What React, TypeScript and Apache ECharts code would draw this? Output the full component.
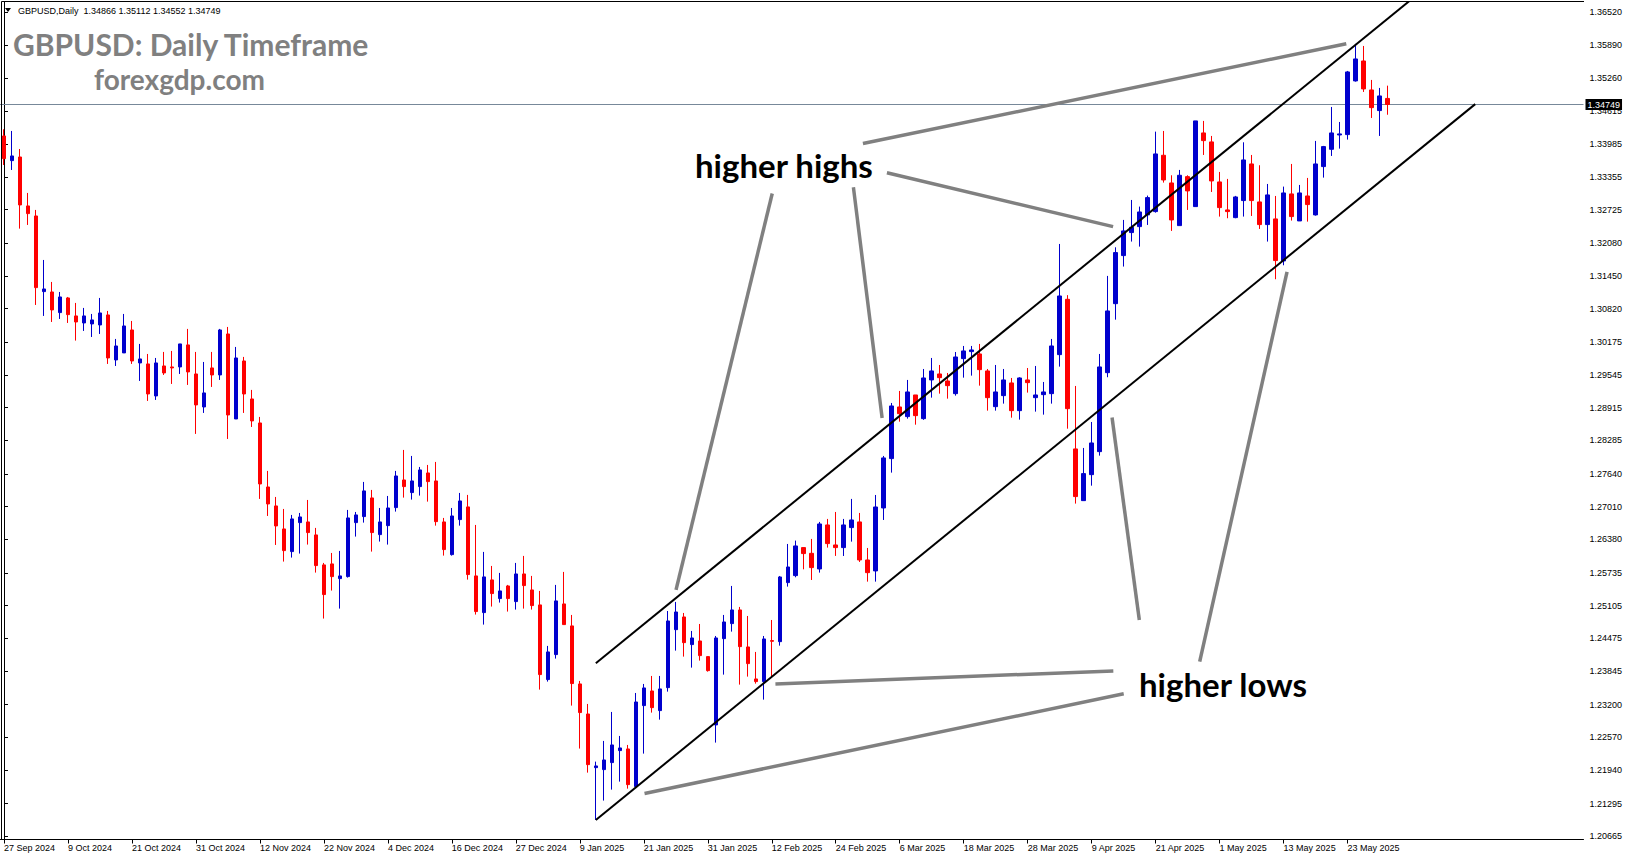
import React, { useEffect, useRef } from 'react';
import * as echarts from 'echarts';

// ---- Data (GBPUSD daily) ----
const OPEN = [
  1.34144, 1.33669, 1.33739, 1.32797, 1.32604, 1.31148, 1.31141, 1.30744, 1.31026, 1.30680,
  1.30545, 1.30526, 1.30506, 1.30699, 1.29833, 1.29968, 1.30410, 1.29775, 1.29756, 1.29140,
  1.29717, 1.29698, 1.29698, 1.30122, 1.29563, 1.28928, 1.29679, 1.29544, 1.30333, 1.28697,
  1.29813, 1.29082, 1.28620, 1.27388, 1.27023, 1.26580, 1.26144, 1.26702, 1.26715, 1.26465,
  1.25888, 1.25907, 1.25624, 1.25663, 1.26702, 1.26818, 1.27177, 1.26471, 1.26644, 1.26991,
  1.27523, 1.27280, 1.27395, 1.27658, 1.27504, 1.26715, 1.26086, 1.26760, 1.27004, 1.25676,
  1.24970, 1.25599, 1.25240, 1.25483, 1.25182, 1.25714, 1.25406, 1.25118, 1.23681, 1.24162,
  1.25137, 1.24714, 1.23597, 1.23019, 1.21986, 1.21948, 1.22083, 1.22314, 1.22346, 1.21621,
  1.23180, 1.23462, 1.23084, 1.23526, 1.24642, 1.24886, 1.24354, 1.24424, 1.24123, 1.22808,
  1.24469, 1.24758, 1.25021, 1.24309, 1.23693, 1.23642, 1.24431, 1.24411, 1.25547, 1.25682,
  1.26221, 1.26111, 1.25810, 1.26657, 1.26272, 1.26221, 1.26606, 1.26715, 1.25983, 1.25772,
  1.26984, 1.27934, 1.28928, 1.28742, 1.29159, 1.28703, 1.29448, 1.29563, 1.29428, 1.29184,
  1.29858, 1.29993, 1.29948, 1.29621, 1.28934, 1.29146, 1.29390, 1.28857, 1.29448, 1.29107,
  1.29165, 1.29184, 1.29935, 1.31000, 1.28120, 1.27125, 1.27625, 1.28068, 1.29588, 1.30916,
  1.31841, 1.32284, 1.32399, 1.32624, 1.32688, 1.33772, 1.33239, 1.32418, 1.33361, 1.32784,
  1.34202, 1.34029, 1.33259, 1.32720, 1.32572, 1.32900, 1.33605, 1.32874, 1.32438, 1.32547,
  1.31738, 1.33028, 1.32508, 1.32989, 1.32624, 1.33554, 1.33887, 1.34163, 1.34170, 1.35203,
  1.35587, 1.35029, 1.34632, 1.34866,
];
const HIGH = [
  1.34272, 1.34240, 1.33893, 1.33047, 1.32720, 1.31757, 1.31334, 1.31141, 1.31045, 1.30930,
  1.30834, 1.30718, 1.31026, 1.30776, 1.30237, 1.30718, 1.30583, 1.30141, 1.29948, 1.29871,
  1.29987, 1.30006, 1.30141, 1.30430, 1.29987, 1.29794, 1.29987, 1.30430, 1.30468, 1.30083,
  1.29891, 1.29256, 1.28736, 1.27697, 1.27196, 1.26965, 1.26850, 1.26888, 1.27138, 1.26600,
  1.25926, 1.26118, 1.26157, 1.26946, 1.26907, 1.27485, 1.27331, 1.26984, 1.27215, 1.27697,
  1.28101, 1.27985, 1.27773, 1.27812, 1.27870, 1.26792, 1.26984, 1.27273, 1.27235, 1.26657,
  1.26138, 1.25868, 1.25734, 1.25503, 1.25926, 1.26061, 1.25676, 1.25387, 1.24329, 1.25503,
  1.25753, 1.24925, 1.23655, 1.23212, 1.22102, 1.22500, 1.23058, 1.22596, 1.22423, 1.23423,
  1.23597, 1.23751, 1.23751, 1.25001, 1.25175, 1.24963, 1.24617, 1.24751, 1.24123, 1.24520,
  1.24925, 1.25483, 1.25079, 1.24905, 1.24213, 1.24520, 1.24828, 1.25675, 1.26291, 1.26356,
  1.26227, 1.26388, 1.26715, 1.26773, 1.26907, 1.26773, 1.27158, 1.26888, 1.26214, 1.27234,
  1.27985, 1.29005, 1.29236, 1.29448, 1.29159, 1.29659, 1.29871, 1.29736, 1.29582, 1.29986,
  1.30102, 1.30102, 1.30141, 1.29659, 1.29736, 1.29659, 1.29486, 1.29500, 1.29678, 1.29717,
  1.29409, 1.30237, 1.32065, 1.31080, 1.29332, 1.28139, 1.28639, 1.29948, 1.31450, 1.32001,
  1.32528, 1.32912, 1.32784, 1.32996, 1.34227, 1.34240, 1.33387, 1.33490, 1.33387, 1.34433,
  1.34433, 1.34144, 1.33451, 1.33317, 1.32990, 1.34022, 1.33778, 1.33580, 1.33220, 1.32989,
  1.33169, 1.33605, 1.33201, 1.33336, 1.34048, 1.33952, 1.34702, 1.34413, 1.35395, 1.35915,
  1.35876, 1.35222, 1.35068, 1.35112,
];
const LOW = [
  1.33585, 1.33489, 1.32360, 1.32431, 1.30891, 1.30680, 1.30564, 1.30622, 1.30545, 1.30205,
  1.30391, 1.30275, 1.30333, 1.29756, 1.29717, 1.29968, 1.29756, 1.29429, 1.29044, 1.29063,
  1.29544, 1.29371, 1.29563, 1.29352, 1.28409, 1.28813, 1.29313, 1.29448, 1.28312, 1.28697,
  1.28813, 1.28543, 1.27158, 1.26830, 1.26272, 1.25952, 1.26029, 1.26106, 1.26279, 1.25740,
  1.24855, 1.25394, 1.25047, 1.25644, 1.26433, 1.26702, 1.26144, 1.26337, 1.26279, 1.26914,
  1.27183, 1.27145, 1.27222, 1.27106, 1.26644, 1.26067, 1.26067, 1.26644, 1.25605, 1.24932,
  1.24739, 1.25086, 1.25163, 1.24990, 1.25028, 1.25047, 1.25028, 1.23488, 1.23642, 1.24085,
  1.24739, 1.23180, 1.22353, 1.21890, 1.20980, 1.21352, 1.21563, 1.21717, 1.21582, 1.21621,
  1.22256, 1.23045, 1.22910, 1.23449, 1.24238, 1.24123, 1.23911, 1.24046, 1.23834, 1.22468,
  1.23776, 1.24604, 1.23584, 1.23738, 1.23603, 1.23295, 1.23738, 1.24334, 1.25470, 1.25650,
  1.25803, 1.25598, 1.25740, 1.26221, 1.26061, 1.26060, 1.26336, 1.25945, 1.25566, 1.25566,
  1.26753, 1.27664, 1.28645, 1.28703, 1.28587, 1.28680, 1.29107, 1.29184, 1.29088, 1.29146,
  1.29492, 1.29531, 1.29338, 1.28857, 1.28857, 1.28992, 1.28722, 1.28684, 1.29204, 1.28838,
  1.28780, 1.28992, 1.29704, 1.28510, 1.27068, 1.27125, 1.27413, 1.27991, 1.29500, 1.30608,
  1.31630, 1.32111, 1.32014, 1.32431, 1.32668, 1.33246, 1.32316, 1.32418, 1.32720, 1.32784,
  1.33778, 1.33066, 1.32592, 1.32560, 1.32560, 1.32592, 1.32604, 1.32354, 1.32111, 1.31386,
  1.31655, 1.32515, 1.32508, 1.32495, 1.32611, 1.33342, 1.33759, 1.33900, 1.34074, 1.35190,
  1.34991, 1.34490, 1.34144, 1.34552,
];
const CLOSE = [
  1.33707, 1.33759, 1.32816, 1.32649, 1.31225, 1.31199, 1.30795, 1.31045, 1.30705, 1.30564,
  1.30680, 1.30603, 1.30737, 1.29871, 1.30102, 1.30487, 1.29813, 1.29852, 1.29178, 1.29775,
  1.29583, 1.29679, 1.30141, 1.29602, 1.28967, 1.29198, 1.29544, 1.30410, 1.28774, 1.29871,
  1.29178, 1.28659, 1.27446, 1.27061, 1.26638, 1.26163, 1.26773, 1.26811, 1.26510, 1.25875,
  1.25317, 1.25663, 1.25676, 1.26792, 1.26850, 1.27312, 1.26510, 1.26715, 1.26984, 1.27600,
  1.27395, 1.27504, 1.27716, 1.27491, 1.26721, 1.26183, 1.26830, 1.27119, 1.25702, 1.24990,
  1.25657, 1.25336, 1.25387, 1.25240, 1.25714, 1.25490, 1.25105, 1.23777, 1.24213, 1.25195,
  1.24739, 1.23604, 1.23046, 1.22044, 1.22019, 1.22134, 1.22423, 1.22365, 1.21659, 1.23250,
  1.23520, 1.23141, 1.23501, 1.24809, 1.24982, 1.24392, 1.24482, 1.24142, 1.23853, 1.24482,
  1.24790, 1.25021, 1.24315, 1.23988, 1.23642, 1.24463, 1.24418, 1.25656, 1.25848, 1.26253,
  1.26106, 1.25836, 1.26676, 1.26298, 1.26221, 1.26657, 1.26753, 1.25983, 1.25739, 1.27003,
  1.27947, 1.28947, 1.28799, 1.29217, 1.28761, 1.29486, 1.29621, 1.29492, 1.29338, 1.29890,
  1.30006, 1.30025, 1.29646, 1.29107, 1.29217, 1.29448, 1.28857, 1.29486, 1.29396, 1.29159,
  1.29217, 1.30102, 1.31064, 1.28895, 1.27203, 1.27645, 1.28235, 1.29698, 1.30776, 1.31899,
  1.32316, 1.32386, 1.32681, 1.32957, 1.33798, 1.33297, 1.32527, 1.33387, 1.33086, 1.34433,
  1.34054, 1.33278, 1.32765, 1.32688, 1.32970, 1.33682, 1.32900, 1.32438, 1.33009, 1.31745,
  1.33047, 1.32592, 1.33047, 1.32823, 1.33605, 1.33939, 1.34202, 1.34183, 1.35376, 1.35626,
  1.35049, 1.34689, 1.34914, 1.34749,
];

const Y_TICKS = [
  1.20665, 1.21295, 1.2194, 1.2257, 1.232, 1.23845, 1.24475, 1.25105, 1.25735, 1.2638,
  1.2701, 1.2764, 1.28285, 1.28915, 1.29545, 1.30175, 1.3082, 1.3145, 1.3208, 1.32725,
  1.33355, 1.33985, 1.34615, 1.3526, 1.3589, 1.3652,
];
const Y_MIN = 1.20603;
const Y_MAX = 1.36722;
const LAST_PRICE = 1.34749;
const HEADER_TEXT = 'GBPUSD,Daily  1.34866 1.35112 1.34552 1.34749';

const START = [2024, 8, 27];
const HOLIDAYS = ['2024-12-25', '2025-01-01'];
const EXTRA_SLOTS = 24;
const LABEL_EVERY = 8;
const MONTHS = ['Jan', 'Feb', 'Mar', 'Apr', 'May', 'Jun', 'Jul', 'Aug', 'Sep', 'Oct', 'Nov', 'Dec'];

// Drawn trend objects, in [bar index, price]
const CHANNEL_LINES = [
  [[74.0, 1.23995], [176.0, 1.36775]],
  [[74.0, 1.20979], [183.96, 1.34756]],
];
const POINTER_LINES = [
  [[107.4, 1.33997], [167.84, 1.3592]],
  [[110.4, 1.33437], [138.68, 1.32398]],
  [[96.06, 1.33037], [84.03, 1.25406]],
  [[106.21, 1.33158], [109.8, 1.28716]],
  [[138.71, 1.23847], [96.46, 1.23597]],
  [[140.01, 1.23408], [80.09, 1.21489]],
  [[141.96, 1.24829], [138.55, 1.28726]],
  [[149.51, 1.24028], [160.43, 1.31526]],
];

function buildDates(n: number): string[] {
  const out: string[] = [];
  const d = new Date(Date.UTC(START[0], START[1], START[2]));
  while (out.length < n) {
    const dow = d.getUTCDay();
    const iso = d.toISOString().slice(0, 10);
    if (dow !== 0 && dow !== 6 && HOLIDAYS.indexOf(iso) < 0) {
      out.push(`${d.getUTCDate()} ${MONTHS[d.getUTCMonth()]} ${d.getUTCFullYear()}`);
    }
    d.setUTCDate(d.getUTCDate() + 1);
  }
  return out;
}

export default function App() {
  const ref = useRef<HTMLDivElement>(null);

  useEffect(() => {
    document.body.style.margin = '0';
    document.body.style.overflow = 'hidden';
    if (!ref.current) return;
    const chart = echarts.init(ref.current, null, { renderer: 'svg' });

    const n = OPEN.length;
    const dates = buildDates(n);
    const categories = dates.concat(new Array(EXTRA_SLOTS).fill(''));
    const total = categories.length;
    const showIdx = (i: number) => i % LABEL_EVERY === 0 && i < n;
    const candles = OPEN.map((o, i) => [o, CLOSE[i], LOW[i], HIGH[i]]);

    const axisFont = { fontFamily: 'Liberation Sans', fontSize: 9, color: '#000' };

    const lineSeries = (seg: number[][], color: string, width: number) => ({
      type: 'line',
      xAxisIndex: 1,
      yAxisIndex: 0,
      data: seg,
      symbol: 'none',
      silent: true,
      z: 5,
      lineStyle: { color, width },
      clip: true,
    });

    const option: any = {
      animation: false,
      backgroundColor: '#fff',
      grid: { left: -0.5, right: 47.5, top: 2, bottom: 21.5, containLabel: false },
      xAxis: [
        {
          type: 'category',
          data: categories,
          boundaryGap: true,
          axisLine: { show: true, lineStyle: { color: '#000', width: 1 } },
          axisTick: {
            show: true,
            interval: (i: number) => showIdx(i),
            alignWithLabel: true,
            length: 4,
            lineStyle: { color: '#000' },
          },
          axisLabel: {
            ...axisFont,
            interval: (i: number) => showIdx(i),
            align: 'left',
            margin: 4,
          },
          splitLine: { show: false },
        },
        {
          type: 'value',
          min: -0.5,
          max: total - 0.5,
          show: false,
        },
      ],
      yAxis: [
        {
          type: 'value',
          position: 'right',
          min: Y_MIN,
          max: Y_MAX,
          scale: true,
          axisLine: { show: true, lineStyle: { color: '#000', width: 1 } },
          axisTick: { show: true, length: 4, customValues: Y_TICKS, lineStyle: { color: '#000' } },
          axisLabel: {
            ...axisFont,
            customValues: Y_TICKS,
            margin: 6,
            formatter: (v: number) => v.toFixed(5),
          },
          splitLine: { show: false },
        },
      ],
      graphic: [
        { type: 'line', shape: { x1: 1.5, y1: 1.5, x2: 1.5, y2: 840 }, style: { stroke: '#000', lineWidth: 1 }, z: 10 },
        { type: 'line', shape: { x1: 1.5, y1: 1.5, x2: 1584, y2: 1.5 }, style: { stroke: '#000', lineWidth: 1 }, z: 10 },
        { type: 'polygon', shape: { points: [[5, 8], [11, 8], [8, 12]] }, style: { fill: '#000' }, z: 10 },
        {
          type: 'text', x: 18, y: 10.5, z: 10,
          style: { text: HEADER_TEXT, fill: '#000', font: '9px "Liberation Sans"', verticalAlign: 'middle', align: 'left' },
        },
        {
          type: 'text', x: 13, y: 44, z: 10,
          style: { text: 'GBPUSD: Daily Timeframe', fill: '#808080', font: 'bold 30px Lato', verticalAlign: 'middle', align: 'left' },
        },
        {
          type: 'text', x: 94, y: 79, z: 10,
          style: { text: 'forexgdp.com', fill: '#808080', font: 'bold 28px Lato', verticalAlign: 'middle', align: 'left' },
        },
        {
          type: 'text', x: 695, y: 165, z: 10,
          style: { text: 'higher highs', fill: '#000', font: 'bold 33px Lato', verticalAlign: 'middle', align: 'left' },
        },
        {
          type: 'text', x: 1139, y: 684, z: 10,
          style: { text: 'higher lows', fill: '#000', font: 'bold 33px Lato', verticalAlign: 'middle', align: 'left' },
        },
      ],
      series: [
        {
          type: 'line',
          xAxisIndex: 1,
          yAxisIndex: 0,
          data: [[-0.5, LAST_PRICE], [total - 0.5, LAST_PRICE]],
          symbol: 'none',
          silent: true,
          clip: false,
          z: 1,
          lineStyle: { color: '#778899', width: 1 },
          endLabel: {
            show: true,
            formatter: () => LAST_PRICE.toFixed(5),
            backgroundColor: '#000',
            color: '#fff',
            padding: [1, 2, 1, 2],
            distance: 2,
            fontFamily: 'Liberation Sans',
            fontSize: 9,
          },
        },
        {
          type: 'candlestick',
          xAxisIndex: 0,
          yAxisIndex: 0,
          data: candles,
          barWidth: 4,
          z: 2,
          itemStyle: {
            color: '#0000CD',
            color0: '#FF0000',
            borderColor: '#0000CD',
            borderColor0: '#FF0000',
            borderWidth: 1,
          },
        },
        ...CHANNEL_LINES.map((s) => lineSeries(s, '#000', 2)),
        ...POINTER_LINES.map((s) => lineSeries(s, '#808080', 3.5)),
      ],
    };

    chart.setOption(option);
    return () => chart.dispose();
  }, []);

  return (
    <div
      ref={ref}
      style={{ position: 'absolute', left: 0, top: 0, width: 1631, height: 861, background: '#fff' }}
    />
  );
}
